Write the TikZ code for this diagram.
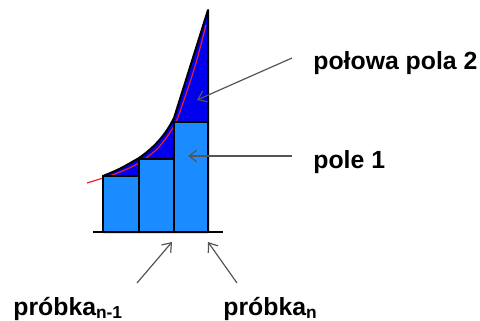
\documentclass[tikz,border=0pt]{standalone}
\usepackage{fontspec}
\setmainfont{Liberation Sans}
\usetikzlibrary{arrows.meta}
\definecolor{barblue}{HTML}{1A8CFF}
\definecolor{trapblue}{HTML}{0000EE}
\definecolor{fnred}{HTML}{E8202A}
\definecolor{leadgrey}{HTML}{555555}
\tikzset{
  bar/.style={draw=black,fill=barblue,line width=1pt},
  trap/.style={draw=black,fill=trapblue,line width=1pt,line join=round},
  fn/.style={fnred,line width=0.6pt},
  axisline/.style={black,line width=1.1pt},
  lead/.style={-{Straight Barb[length=4pt,width=6pt]},leadgrey,line width=0.6pt},
  lab/.style={font=\fontsize{12.4}{14}\selectfont\bfseries,inner sep=0pt},
}
\begin{document}
\begin{tikzpicture}[x=0.5pt,y=-0.5pt]
    \useasboundingbox (0,0) rectangle (480,320);
    % area under the polygonal top line
    \path[trap] (103,176) .. controls (120,169) .. (139,158)
      .. controls (155,147) and (166,134) .. (174,118) -- (208,10)
      -- (208,232) -- (103,232) -- cycle;
    \draw[fn] plot[smooth] coordinates {(87,183) (103,178) (120,172) (139,163)
      (158,148) (174,126) (184,100) (196,63) (206,25)};
    % rectangles
    \draw[bar] (103,232) rectangle (139,176);
    \draw[bar] (139,232) rectangle (174,159);
    \draw[bar] (174,232) rectangle (208,122);
    \draw[axisline] (93,232) -- (223,232);
    % labels
    \node[lab,anchor=base west] (half) at (313,70) {połowa pola 2};
    \node[lab,anchor=base west] (field) at (313,168) {pole 1};
    \node[lab,anchor=base west] (prev) at (13,315) {próbka\textsubscript{n-1}};
    \node[lab,anchor=base west] (curr) at (223,315) {próbka\textsubscript{n}};
    % leader lines
    \coordinate (halfT) at (292,58);
    \coordinate (halfH) at (197,100);
    \coordinate (fieldT) at (292,156);
    \coordinate (fieldH) at (188,156);
    \coordinate (prevT) at (137,283);
    \coordinate (prevH) at (172,242);
    \coordinate (currT) at (237,283);
    \coordinate (currH) at (208,242);
    \draw[lead] (halfT) -- (halfH);
    \draw[lead] (fieldT) -- (fieldH);
    \draw[lead] (prevT) -- (prevH);
    \draw[lead] (currT) -- (currH);
\end{tikzpicture}
\end{document}
